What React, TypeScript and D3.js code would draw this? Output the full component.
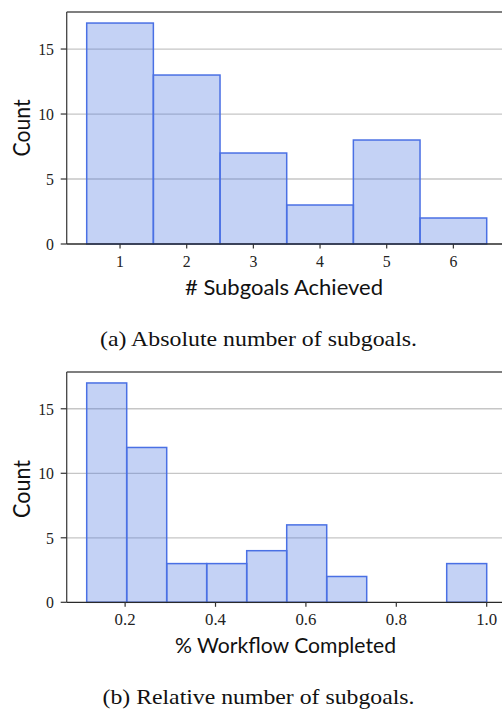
import React from "react";
import * as d3 from "d3";

// ---- Data ----
const absBins = [1, 2, 3, 4, 5, 6];
const absCounts = [17, 13, 7, 3, 8, 2];
const absTicks = [1, 2, 3, 4, 5, 6];

const relEdges = [0.115, 0.2035, 0.292, 0.3805, 0.469, 0.5575, 0.646, 0.7345, 0.823, 0.9115, 1.0];
const relCounts = [17, 12, 3, 3, 4, 6, 2, 0, 0, 3];
const relTicks = [0.2, 0.4, 0.6, 0.8, 1.0];

const yTicks = [0, 5, 10, 15];
const gridTicks = [5, 10, 15];

const BAR_FILL = "rgba(70,115,225,0.32)";
const BAR_EDGE = "#4a70e4";
const SERIF = "'Liberation Serif', 'Times New Roman', serif";
const SANS = "Lato, 'Open Sans', sans-serif";

type Bar = { x0: number; x1: number; c: number };

function Panel(props: {
  top: number;
  bottom: number;
  xDomain: [number, number];
  bars: Bar[];
  ticks: number[];
  tickFmt: (v: number) => string;
  tickBaseline: number;
  xLabel: string;
  xLabelX: [number, number];
  xLabelBaseline: number;
  countCenterY: number;
  countLen: number;
}) {
  const left = 66.7;
  const right = 506.7;
  const x = d3.scaleLinear().domain(props.xDomain).range([left, right]);
  const y = d3.scaleLinear().domain([0, 17.85]).range([props.bottom, props.top]);
  const tickW = (s: string) => {
    let w = 0;
    for (const ch of s) w += ch === "." ? 5.2 : 7.9;
    return w;
  };
  return (
    <g>
      {gridTicks.map((t) => (
        <line key={"g" + t} x1={left} x2={right} y1={y(t)} y2={y(t)} stroke="#c6c6c6" strokeWidth={1.3} />
      ))}
      {props.bars.map((b, i) => (
        <rect
          key={"b" + i}
          x={x(b.x0)}
          y={y(b.c)}
          width={x(b.x1) - x(b.x0)}
          height={y(0) - y(b.c)}
          fill={BAR_FILL}
          stroke={BAR_EDGE}
          strokeWidth={1.5}
        />
      ))}
      {/* spines */}
      <line x1={left} x2={right} y1={props.top} y2={props.top} stroke="#555" strokeWidth={1.3} />
      <line x1={left} x2={left} y1={props.top} y2={props.bottom} stroke="#444" strokeWidth={1.3} />
      <line x1={left} x2={right} y1={props.bottom} y2={props.bottom} stroke="#2a2a2a" strokeWidth={1.3} />
      {/* y ticks */}
      {yTicks.map((t) => (
        <g key={"y" + t}>
          <line x1={left - 6} x2={left} y1={y(t)} y2={y(t)} stroke="#333" strokeWidth={1.2} />
          <text
            x={54}
            y={y(t) + 6}
            textAnchor="end"
            fontFamily={SERIF}
            fontSize={17}
            fill="#222"
            textLength={tickW(String(t))}
            lengthAdjust="spacingAndGlyphs"
          >
            {String(t)}
          </text>
        </g>
      ))}
      {/* x ticks */}
      {props.ticks.map((t) => (
        <g key={"x" + t}>
          <line x1={x(t)} x2={x(t)} y1={props.bottom} y2={props.bottom + 4.5} stroke="#333" strokeWidth={1.2} />
          <text
            x={x(t)}
            y={props.tickBaseline}
            textAnchor="middle"
            fontFamily={SERIF}
            fontSize={17}
            fill="#222"
            textLength={tickW(props.tickFmt(t))}
            lengthAdjust="spacingAndGlyphs"
          >
            {props.tickFmt(t)}
          </text>
        </g>
      ))}
      {/* x label */}
      <text
        x={props.xLabelX[0]}
        y={props.xLabelBaseline}
        fontFamily={SANS}
        fontSize={22}
        fill="#111"
        textLength={props.xLabelX[1] - props.xLabelX[0]}
        lengthAdjust="spacingAndGlyphs"
      >
        {props.xLabel}
      </text>
      {/* y label */}
      <text
        transform={`translate(30,${props.countCenterY}) rotate(-90)`}
        textAnchor="middle"
        fontFamily={SANS}
        fontSize={23}
        fill="#111"
        textLength={props.countLen}
        lengthAdjust="spacingAndGlyphs"
      >
        Count
      </text>
    </g>
  );
}

export default function App() {
  const absBars: Bar[] = absBins.map((b, i) => ({ x0: b - 0.5, x1: b + 0.5, c: absCounts[i] }));
  const relBars: Bar[] = relCounts.map((c, i) => ({ x0: relEdges[i], x1: relEdges[i + 1], c }));
  const relSpan = relEdges[relEdges.length - 1] - relEdges[0];
  return (
    <svg
      width={502}
      height={709}
      style={{ position: "absolute", left: 0, top: 0, background: "#fff" }}
    >
      <rect width={502} height={709} fill="#fff" />
      <Panel
        top={12}
        bottom={244}
        xDomain={[0.2, 6.8]}
        bars={absBars}
        ticks={absTicks}
        tickFmt={(v) => String(v)}
        tickBaseline={266.7}
        xLabel="# Subgoals Achieved"
        xLabelX={[185, 383]}
        xLabelBaseline={295}
        countCenterY={128}
        countLen={57}
      />
      <Panel
        top={372}
        bottom={602.3}
        xDomain={[relEdges[0] - 0.05 * relSpan, relEdges[relEdges.length - 1] + 0.05 * relSpan]}
        bars={relBars}
        ticks={relTicks}
        tickFmt={(v) => v.toFixed(1)}
        tickBaseline={625}
        xLabel="% Workflow Completed"
        xLabelX={[175, 396]}
        xLabelBaseline={653}
        countCenterY={489}
        countLen={58}
      />
      <text
        x={100}
        y={345.7}
        fontFamily={SERIF}
        fontSize={21}
        fill="#111"
        textLength={317}
        lengthAdjust="spacingAndGlyphs"
      >
        (a) Absolute number of subgoals.
      </text>
      <text
        x={102.5}
        y={704}
        fontFamily={SERIF}
        fontSize={21}
        fill="#111"
        textLength={312}
        lengthAdjust="spacingAndGlyphs"
      >
        (b) Relative number of subgoals.
      </text>
    </svg>
  );
}
